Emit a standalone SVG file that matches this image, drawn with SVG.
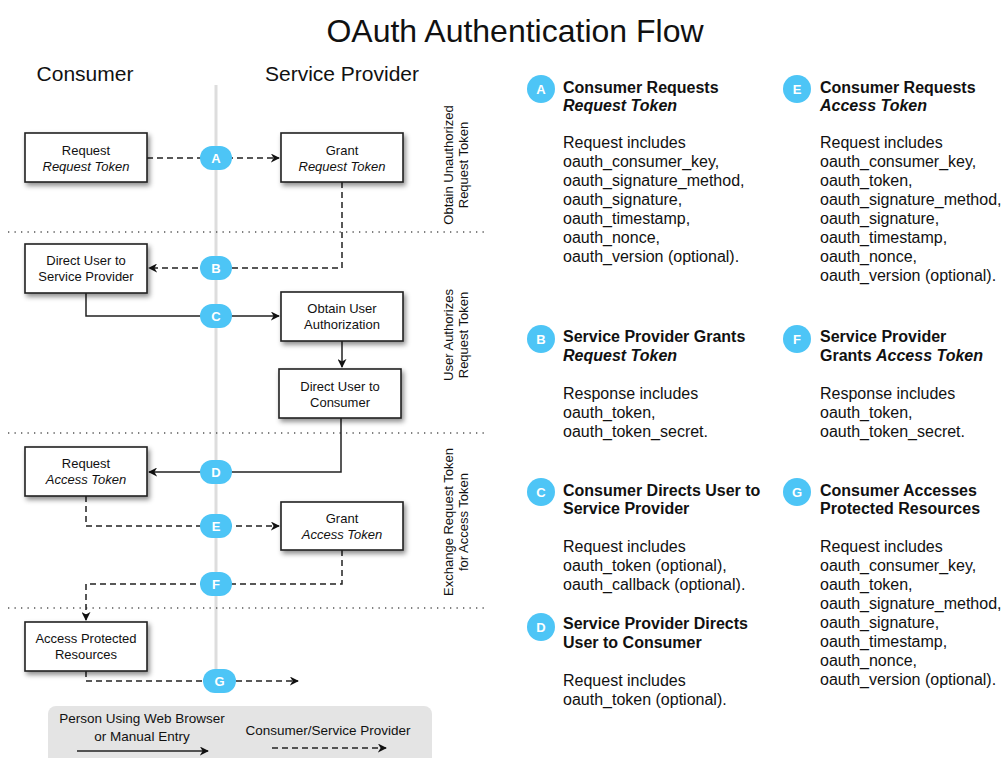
<svg xmlns="http://www.w3.org/2000/svg" width="1004" height="758" viewBox="0 0 1004 758">
<style>
text{font-family:"Liberation Sans",Arial,sans-serif;fill:#111}
.title{font-size:32px;text-anchor:middle}
.hdr{font-size:21px;text-anchor:middle}
.bx{fill:#fff;stroke:#222;stroke-width:1.6}
.bt{font-size:13px;text-anchor:middle}
.it{font-style:italic}
.badge{fill:#4DC5F6}
.bl{font-size:13px;font-weight:bold;fill:#fff;text-anchor:middle}
.rot{font-size:13px;text-anchor:middle}
.sep{stroke:#555;stroke-width:1.3;stroke-dasharray:1.3 5.2;fill:none}
.solid{stroke:#222;stroke-width:1.5;fill:none}
.dash{stroke:#222;stroke-width:1.5;fill:none;stroke-dasharray:6 4}
.h{font-size:16px;font-weight:bold}
.b{font-size:16px}
.lg{font-size:13.5px;text-anchor:middle}
</style>
<defs>
<marker id="arr" viewBox="0 0 10 10" refX="9" refY="5" markerWidth="9" markerHeight="9" markerUnits="userSpaceOnUse" orient="auto">
<path d="M0,0 L10,5 L0,10 L3,5 z" fill="#111"/>
</marker>
<filter id="sh" x="-20%" y="-20%" width="150%" height="160%">
<feDropShadow dx="2" dy="3" stdDeviation="2.5" flood-color="#000" flood-opacity="0.45"/>
</filter>
</defs>
<rect width="1004" height="758" fill="#fff"/>
<text class="title" x="515" y="42">OAuth Authentication Flow</text>
<text class="hdr" x="85" y="81">Consumer</text>
<text class="hdr" x="342" y="81">Service Provider</text>

<line x1="216" y1="85" x2="216" y2="672" stroke="#ddd" stroke-width="3"/>
<g id="separators">
<line class="sep" x1="8" y1="232" x2="486" y2="232"/>
<line class="sep" x1="8" y1="433" x2="486" y2="433"/>
<line class="sep" x1="8" y1="608" x2="486" y2="608"/>
</g>
<g id="phase-labels">
<text class="rot" transform="translate(453,165) rotate(-90)">Obtain Unauthorized</text>
<text class="rot" transform="translate(468,165) rotate(-90)">Request Token</text>
<text class="rot" transform="translate(453,335) rotate(-90)">User Authorizes</text>
<text class="rot" transform="translate(468,335) rotate(-90)">Request Token</text>
<text class="rot" transform="translate(453,522) rotate(-90)">Exchange Request Token</text>
<text class="rot" transform="translate(468,522) rotate(-90)">for Access Token</text>
</g>

<g id="connectors">
<line class="dash" x1="147" y1="158" x2="279" y2="158" marker-end="url(#arr)"/>
<polyline class="dash" points="342,182 342,268 149,268" marker-end="url(#arr)"/>
<polyline class="solid" points="86,293 86,316 279,316" marker-end="url(#arr)"/>
<line class="solid" x1="342" y1="341" x2="342" y2="367" marker-end="url(#arr)"/>
<polyline class="solid" points="341,418 341,472 149,472" marker-end="url(#arr)"/>
<polyline class="dash" points="86,496 86,526 279,526" marker-end="url(#arr)"/>
<polyline class="dash" points="342,550 342,584 86,584 86,620" marker-end="url(#arr)"/>
<polyline class="dash" points="86,671 86,681 298,681" marker-end="url(#arr)"/>
</g>

<g id="n-req-request" filter="url(#sh)"><rect class="bx" x="25" y="133" width="122" height="49"/></g>
<g id="n-req-request-t"><text class="bt" x="86" y="155">Request</text><text class="bt it" x="86" y="171">Request Token</text></g>
<g id="n-grant-request" filter="url(#sh)"><rect class="bx" x="281" y="133" width="122" height="49"/></g>
<g id="n-grant-request-t"><text class="bt" x="342" y="155">Grant</text><text class="bt it" x="342" y="171">Request Token</text></g>
<g id="n-direct-sp" filter="url(#sh)"><rect class="bx" x="25" y="244" width="122" height="49"/></g>
<g id="n-direct-sp-t"><text class="bt" x="86" y="265">Direct User to</text><text class="bt" x="86" y="281">Service Provider</text></g>
<g id="n-obtain" filter="url(#sh)"><rect class="bx" x="281" y="292" width="122" height="49"/></g>
<g id="n-obtain-t"><text class="bt" x="342" y="313">Obtain User</text><text class="bt" x="342" y="329">Authorization</text></g>
<g id="n-direct-c" filter="url(#sh)"><rect class="bx" x="279" y="369" width="122" height="49"/></g>
<g id="n-direct-c-t"><text class="bt" x="340" y="391">Direct User to</text><text class="bt" x="340" y="407">Consumer</text></g>
<g id="n-req-access" filter="url(#sh)"><rect class="bx" x="25" y="447" width="122" height="49"/></g>
<g id="n-req-access-t"><text class="bt" x="86" y="468">Request</text><text class="bt it" x="86" y="484">Access Token</text></g>
<g id="n-grant-access" filter="url(#sh)"><rect class="bx" x="281" y="502" width="122" height="48"/></g>
<g id="n-grant-access-t"><text class="bt" x="342" y="523">Grant</text><text class="bt it" x="342" y="539">Access Token</text></g>
<g id="n-access-res" filter="url(#sh)"><rect class="bx" x="25" y="622" width="122" height="49"/></g>
<g id="n-access-res-t"><text class="bt" x="86" y="643">Access Protected</text><text class="bt" x="86" y="659">Resources</text></g>

<g id="badges">
<rect class="badge" x="200" y="146" width="32" height="24" rx="12"/><text class="bl" x="216" y="163">A</text>
<rect class="badge" x="200" y="256" width="32" height="24" rx="12"/><text class="bl" x="216" y="273">B</text>
<rect class="badge" x="200" y="304" width="32" height="24" rx="12"/><text class="bl" x="216" y="321">C</text>
<rect class="badge" x="200" y="460" width="32" height="24" rx="12"/><text class="bl" x="216" y="477">D</text>
<rect class="badge" x="200" y="514" width="32" height="24" rx="12"/><text class="bl" x="216" y="531">E</text>
<rect class="badge" x="200" y="572" width="32" height="24" rx="12"/><text class="bl" x="216" y="589">F</text>
<rect class="badge" x="203" y="669" width="33" height="24" rx="12"/><text class="bl" x="219.5" y="686">G</text>
</g>

<g id="legend">
<rect x="48" y="706" width="384" height="70" rx="8" fill="#e4e4e4"/>
<text class="lg" x="142" y="723">Person Using Web Browser</text>
<text class="lg" x="142" y="741">or Manual Entry</text>
<line class="solid" x1="77" y1="751" x2="208" y2="751" marker-end="url(#arr)"/>
<text class="lg" x="328" y="735">Consumer/Service Provider</text>
<line class="dash" x1="272" y1="748" x2="386" y2="748" marker-end="url(#arr)"/>
</g>

<g id="desc-A">
<circle class="badge" cx="541" cy="89" r="14"/><text class="bl" x="541" y="94">A</text>
<text class="h" x="563" y="93">Consumer Requests</text>
<text class="h it" x="563" y="111">Request Token</text>
<text class="b" x="563" y="148">Request includes</text>
<text class="b" x="563" y="167">oauth_consumer_key,</text>
<text class="b" x="563" y="186">oauth_signature_method,</text>
<text class="b" x="563" y="205">oauth_signature,</text>
<text class="b" x="563" y="224">oauth_timestamp,</text>
<text class="b" x="563" y="243">oauth_nonce,</text>
<text class="b" x="563" y="262">oauth_version (optional).</text>
</g>
<g id="desc-E">
<circle class="badge" cx="797" cy="89" r="14"/><text class="bl" x="797" y="94">E</text>
<text class="h" x="820" y="93">Consumer Requests</text>
<text class="h it" x="820" y="111">Access Token</text>
<text class="b" x="820" y="148">Request includes</text>
<text class="b" x="820" y="167">oauth_consumer_key,</text>
<text class="b" x="820" y="186">oauth_token,</text>
<text class="b" x="820" y="205">oauth_signature_method,</text>
<text class="b" x="820" y="224">oauth_signature,</text>
<text class="b" x="820" y="243">oauth_timestamp,</text>
<text class="b" x="820" y="262">oauth_nonce,</text>
<text class="b" x="820" y="281">oauth_version (optional).</text>
</g>
<g id="desc-B">
<circle class="badge" cx="541" cy="339" r="14"/><text class="bl" x="541" y="344">B</text>
<text class="h" x="563" y="342">Service Provider Grants</text>
<text class="h it" x="563" y="361">Request Token</text>
<text class="b" x="563" y="399">Response includes</text>
<text class="b" x="563" y="418">oauth_token,</text>
<text class="b" x="563" y="437">oauth_token_secret.</text>
</g>
<g id="desc-F">
<circle class="badge" cx="797" cy="339" r="14"/><text class="bl" x="797" y="344">F</text>
<text class="h" x="820" y="342">Service Provider</text>
<text class="h" x="820" y="361">Grants <tspan font-style="italic">Access Token</tspan></text>
<text class="b" x="820" y="399">Response includes</text>
<text class="b" x="820" y="418">oauth_token,</text>
<text class="b" x="820" y="437">oauth_token_secret.</text>
</g>
<g id="desc-C">
<circle class="badge" cx="541" cy="492" r="14"/><text class="bl" x="541" y="497">C</text>
<text class="h" x="563" y="496">Consumer Directs User to</text>
<text class="h" x="563" y="514">Service Provider</text>
<text class="b" x="563" y="552">Request includes</text>
<text class="b" x="563" y="571">oauth_token (optional),</text>
<text class="b" x="563" y="590">oauth_callback (optional).</text>
</g>
<g id="desc-D">
<circle class="badge" cx="541" cy="627" r="14"/><text class="bl" x="541" y="632">D</text>
<text class="h" x="563" y="629">Service Provider Directs</text>
<text class="h" x="563" y="648">User to Consumer</text>
<text class="b" x="563" y="686">Request includes</text>
<text class="b" x="563" y="705">oauth_token (optional).</text>
</g>
<g id="desc-G">
<circle class="badge" cx="797" cy="492" r="14"/><text class="bl" x="797" y="497">G</text>
<text class="h" x="820" y="496">Consumer Accesses</text>
<text class="h" x="820" y="514">Protected Resources</text>
<text class="b" x="820" y="552">Request includes</text>
<text class="b" x="820" y="571">oauth_consumer_key,</text>
<text class="b" x="820" y="590">oauth_token,</text>
<text class="b" x="820" y="609">oauth_signature_method,</text>
<text class="b" x="820" y="628">oauth_signature,</text>
<text class="b" x="820" y="647">oauth_timestamp,</text>
<text class="b" x="820" y="666">oauth_nonce,</text>
<text class="b" x="820" y="685">oauth_version (optional).</text>
</g>
</svg>
